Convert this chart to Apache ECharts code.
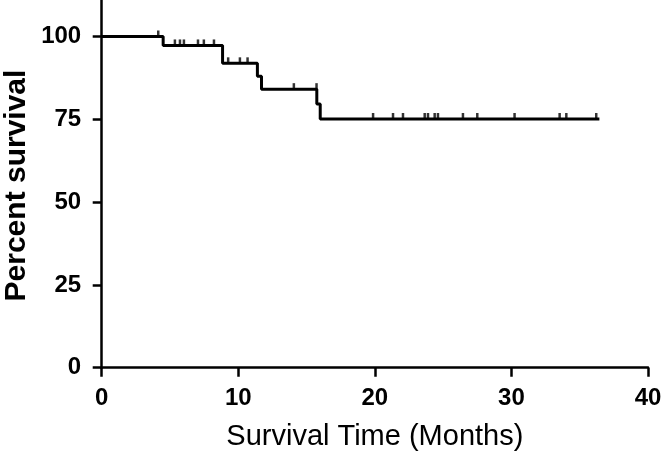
<!DOCTYPE html>
<html>
<head>
<meta charset="utf-8">
<script src="https://cdn.jsdelivr.net/npm/echarts@6/dist/echarts.min.js"></script>
<style>html,body{margin:0;padding:0;background:#fff;}#c{width:664px;height:456px;}</style>
</head>
<body>
<div id="c"></div>
<script>
// Kaplan-Meier step points (time in months, percent survival after event)
var stepTimes = [0, 4.5, 8.85, 11.4, 11.7, 15.75, 16.0, 36.44];
var stepSurv  = [100, 97.3, 91.9, 88.0, 84.1, 79.6, 75.1, 75.1];
// Censored observations
var censorTimes = [4.14, 5.36, 5.73, 6.02, 7.05, 7.48, 8.22, 9.26, 10.12, 10.68, 14.07, 15.73,
                   19.87, 21.33, 22.06, 23.65, 23.89, 24.38, 24.62, 26.45, 27.5, 30.23, 33.53, 34.02, 36.21];
var censorSurv  = [100, 97.3, 97.3, 97.3, 97.3, 97.3, 97.3, 91.9, 91.9, 91.9, 84.1, 84.1,
                   75.1, 75.1, 75.1, 75.1, 75.1, 75.1, 75.1, 75.1, 75.1, 75.1, 75.1, 75.1, 75.1];
var yTickLabels = [0, 25, 50, 75, 100];

var font = 'Liberation Sans, Arial, sans-serif';
var chart = echarts.init(document.getElementById('c'), null, {renderer: 'canvas'});
chart.setOption({
  animation: false,
  backgroundColor: '#fff',
  // y axis runs past the top edge of the picture (to 125), so it reaches the top like the reference
  grid: {left: 101.7, right: 16, top: -46.3, bottom: 88.3, containLabel: false, outerBoundsMode: 'none'},
  xAxis: {
    type: 'value', min: 0, max: 40, interval: 10,
    name: 'Survival Time (Months)', nameLocation: 'middle', nameGap: 55,
    nameTextStyle: {fontFamily: font, fontSize: 29, color: '#000'},
    axisLine: {show: true, lineStyle: {color: '#000', width: 2.5}},
    axisTick: {show: true, inside: false, length: 9, lineStyle: {color: '#000', width: 2.5}},
    axisLabel: {fontFamily: font, fontSize: 24, fontWeight: 'bold', color: '#000', margin: 19},
    splitLine: {show: false}
  },
  yAxis: {
    type: 'value', min: 0, max: 125, interval: 25,
    axisLine: {show: true, lineStyle: {color: '#000', width: 2.5}},
    axisTick: {show: true, inside: false, length: 9, lineStyle: {color: '#000', width: 2.5}},
    axisLabel: {fontFamily: font, fontSize: 24, fontWeight: 'bold', color: '#000', margin: 20.5, customValues: yTickLabels},
    splitLine: {show: false}
  },
  series: [
    {
      type: 'line', step: 'end', symbol: 'none',
      lineStyle: {color: '#000', width: 3},
      data: stepTimes.map(function (t, i) { return [t, stepSurv[i]]; })
    },
    {
      type: 'scatter', symbol: 'rect', symbolSize: [2.5, 6], symbolOffset: [0, -3],
      itemStyle: {color: '#000'},
      data: censorTimes.map(function (t, i) { return [t, censorSurv[i]]; })
    }
  ]
});
// Place the y-axis title centred on the visible 0..110 span (grid extends off-canvas)
var yMid = chart.convertToPixel({yAxisIndex: 0}, 55);
chart.setOption({
  graphic: [{
    type: 'text', rotation: Math.PI / 2, x: 17, y: yMid,
    style: {text: 'Percent survival', font: 'bold 30px ' + font, fill: '#000', align: 'center', verticalAlign: 'middle'}
  }]
});
</script>
</body>
</html>
